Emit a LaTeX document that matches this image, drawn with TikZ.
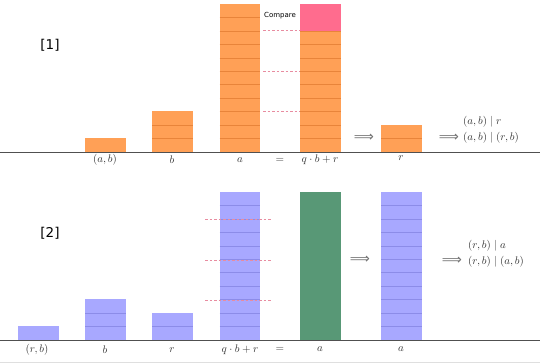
\documentclass[tikz,border=0pt]{standalone}
\usepackage{fontspec}
\usepackage{amsmath}
\newfontfamily\labfont{DejaVu Sans}
\definecolor{orfill}{RGB}{255,160,86}
\definecolor{orline}{RGB}{232,132,58}
\definecolor{pinkfill}{RGB}{255,108,142}
\definecolor{blfill}{RGB}{168,168,255}
\definecolor{blline}{RGB}{140,140,232}
\definecolor{grfill}{RGB}{88,152,118}
\definecolor{dashcol}{RGB}{232,140,160}
\definecolor{axiscol}{RGB}{80,80,80}
\newcommand{\stackbar}[6]{%
  \node[fill=#5, draw=none, inner sep=0pt, minimum width=40.5pt,
        minimum height={#4*13.45pt}, anchor=south west] (#1) at (#2,#3) {};
  \ifnum#4>1
    \foreach \k in {1,...,\numexpr#4-1\relax}{%
      \draw[stripe, draw=#6] (#2,{#3-\k*13.45}) -- ++(40.5,0);}
  \fi}
\begin{document}
\begin{tikzpicture}[x=1pt,y=-1pt,
  stripe/.style={line width=0.55pt},
  lab/.style={font=\fontsize{11}{13}\selectfont, text=black!80, inner sep=0pt},
  arr/.style={font=\labfont\fontsize{14}{15}\selectfont, text=black!55, inner sep=0pt},
  dashln/.style={draw=dashcol, line width=0.5pt, dash pattern=on 2.5pt off 2pt},
  axis/.style={draw=axiscol, line width=0.9pt}]
\useasboundingbox[fill=white] (0,0) rectangle (540,363);
% ---------- panel 1 ----------
\node[font=\labfont\fontsize{13.5}{15}\selectfont, inner sep=0pt] (p1) at (50,45) {[1]};
\stackbar{ab1}{85}{152}{1}{orfill}{orline}
\stackbar{b1}{152}{152}{3}{orfill}{orline}
\stackbar{a1}{219.5}{152}{11}{orfill}{orline}
\stackbar{q1}{300}{152}{9}{orfill}{orline}
\node[fill=pinkfill, inner sep=0pt, minimum width=40.5pt, minimum height=26.9pt, anchor=south west] (pk1) at (300,{152-9*13.45}) {};
\draw[stripe, draw=orline] (pk1.south west) -- (pk1.south east);
\stackbar{r1}{381}{152}{2}{orfill}{orline}
\node[font=\labfont\fontsize{7}{8}\selectfont, inner sep=0pt] (cmp) at (280,16) {Compare};
\foreach \y in {30.2,71,111.5}{\draw[dashln] (263,\y) -- (300,\y);}
\draw[axis] (0,152) -- (540,152);
\node[lab] (l1a) at (105,160) {$(a,b)$};
\node[lab] (l1b) at (172,160) {$b$};
\node[lab] (l1c) at (240,160) {$a$};
\node[lab] (l1d) at (280,160) {$=$};
\node[lab] (l1e) at (320,160) {$q\cdot b+r$};
\node[lab] (l1f) at (401,158) {$r$};
\node[arr] (ar1a) at (364,138) {⟹};
\node[arr] (ar1b) at (449,138) {⟹};
\node[lab, anchor=west] (t1a) at (463,122) {$(a,b)\mid r$};
\node[lab, anchor=west] (t1b) at (463,138) {$(a,b)\mid(r,b)$};
% ---------- panel 2 ----------
\node[font=\labfont\fontsize{13.5}{15}\selectfont, inner sep=0pt] (p2) at (50,233) {[2]};
\stackbar{rb2}{18}{340}{1}{blfill}{blline}
\stackbar{b2}{85}{340}{3}{blfill}{blline}
\stackbar{r2}{152}{340}{2}{blfill}{blline}
\stackbar{q2}{219.5}{340}{11}{blfill}{blline}
\node[fill=grfill, inner sep=0pt, minimum width=40.5pt, minimum height=147.95pt, anchor=south west] (g2) at (300,340) {};
\stackbar{a2}{381}{340}{11}{blfill}{blline}
\foreach \y in {219,259.8,300}{\draw[dashln] (205,\y) -- (272,\y);}
\draw[axis] (0,340) -- (540,340);
\draw[gray!25, line width=1pt] (0,362.5) -- (540,362.5);
\node[lab] (l2a) at (37,350) {$(r,b)$};
\node[lab] (l2b) at (105,350) {$b$};
\node[lab] (l2c) at (172,350) {$r$};
\node[lab] (l2d) at (240,350) {$q\cdot b+r$};
\node[lab] (l2e) at (280,349) {$=$};
\node[lab] (l2f) at (320,349) {$a$};
\node[lab] (l2g) at (401,349) {$a$};
\node[arr] (ar2a) at (360,260) {⟹};
\node[arr] (ar2b) at (452,261) {⟹};
\node[lab, anchor=west] (t2a) at (468,246) {$(r,b)\mid a$};
\node[lab, anchor=west] (t2b) at (468,262) {$(r,b)\mid(a,b)$};
\end{tikzpicture}
\end{document}
